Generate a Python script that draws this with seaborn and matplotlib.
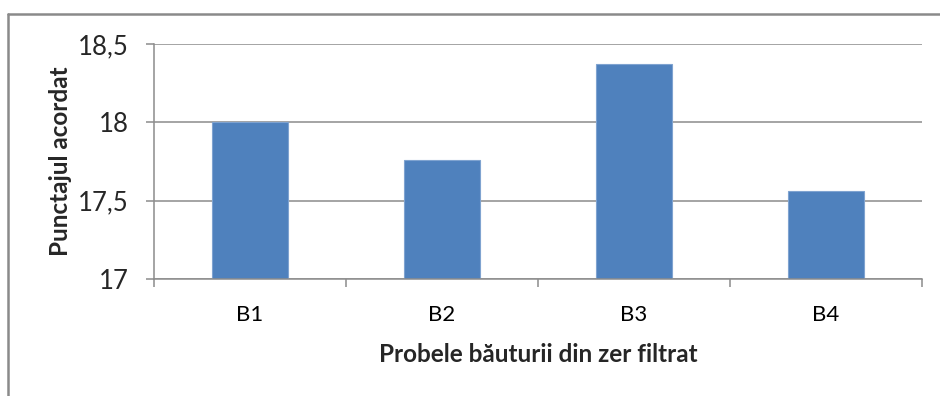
import matplotlib
matplotlib.use("Agg")
import matplotlib.pyplot as plt
import matplotlib.ticker as mticker
from matplotlib.lines import Line2D
import pandas as pd
import seaborn as sns

# data
samples = ["B1", "B2", "B3", "B4"]
scores = [18.0, 17.76, 18.37, 17.56]
y_ticks = [17, 17.5, 18, 18.5]

df = pd.DataFrame({"proba": samples, "punctaj": scores})

sns.set_style("white")
plt.rcParams["font.family"] = ["Lato", "DejaVu Sans"]

fig = plt.figure(figsize=(9.4, 3.96), dpi=100)
ax = fig.add_axes([154 / 940, 117 / 396, 768 / 940, 235 / 396])

sns.barplot(data=df, x="proba", y="punctaj", order=samples, color="#4F81BD",
            width=0.4, saturation=1, edgecolor="#7FA3D0", linewidth=0.8, ax=ax)

grid_c = "#8C8C8C"
ax.set_ylim(17, 18.5)
ax.set_yticks(y_ticks)
ax.yaxis.set_major_formatter(mticker.FuncFormatter(
    lambda v, p: (f"{v:g}").replace(".", ",")))
ax.yaxis.grid(True, color=grid_c, linewidth=1.1)
ax.set_axisbelow(True)

# category ticks at the boundaries, labels in the middle
ax.set_xlim(-0.5, len(samples) - 0.5)
ax.set_xticks([i - 0.5 for i in range(len(samples) + 1)])
ax.set_xticklabels([])
ax.set_xticks(range(len(samples)), minor=True)
ax.set_xticklabels(samples, minor=True)
ax.tick_params(axis="x", which="major", direction="out", length=6,
               color=grid_c, width=1.1, bottom=True)
ax.tick_params(axis="x", which="minor", length=0, pad=19, labelsize=16,
               colors="#000000")
ax.tick_params(axis="y", direction="out", length=6, color=grid_c, width=1.1,
               left=True, pad=12, labelsize=18.5)

for side in ["top", "right"]:
    ax.spines[side].set_visible(False)
for side in ["left", "bottom"]:
    ax.spines[side].set_color(grid_c)
    ax.spines[side].set_linewidth(1.1)

ax.set_xlabel("Probele băuturii din zer filtrat", fontsize=17.5,
              fontweight="bold", labelpad=13)
ax.set_ylabel("Punctajul acordat", fontsize=17.5, fontweight="bold",
              rotation_mode="default", va="center", ha="center")
ax.yaxis.set_label_coords((60 - 154) / 768, (396 - 161 - 117) / 235)

# outer chart frame (only top and left visible in the crop)
fx = 8 / 940
fy = 1 - 14 / 396
fig.add_artist(Line2D([fx, 1], [fy, fy], color="#8A8A8A", linewidth=1.8,
                      transform=fig.transFigure))
fig.add_artist(Line2D([fx, fx], [0, fy], color="#8A8A8A", linewidth=1.8,
                      transform=fig.transFigure))

fig.savefig("out.png", dpi=100)
